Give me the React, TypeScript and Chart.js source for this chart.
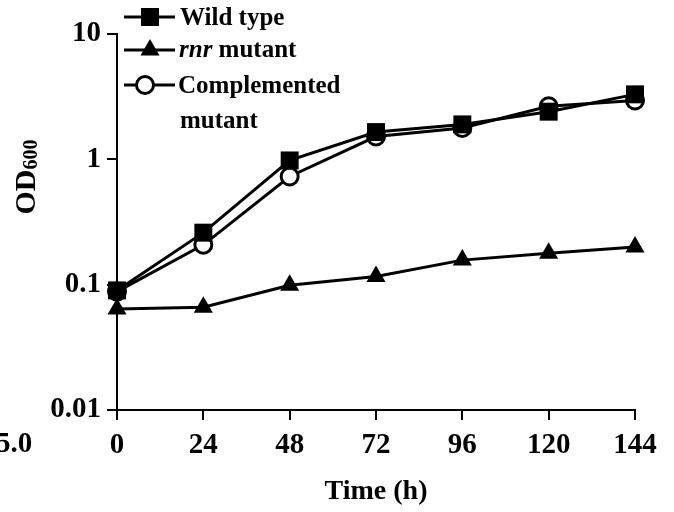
import React, { useEffect, useRef } from 'react';
import { Chart, registerables } from 'chart.js';

Chart.register(...registerables);

const timePoints = [0, 24, 48, 72, 96, 120, 144];
const wildType = [0.09, 0.26, 0.98, 1.65, 1.9, 2.4, 3.3];
const rnrMutant = [0.064, 0.066, 0.099, 0.116, 0.157, 0.178, 0.2];
const complemented = [0.088, 0.208, 0.73, 1.52, 1.78, 2.65, 2.95];
const xTicks = [0, 24, 48, 72, 96, 120, 144];
const yTicks = [0.01, 0.1, 1, 10];
const yTickLabels = ['0.01', '0.1', '1', '10'];
const seriesNames = ['Wild type', 'rnr mutant', 'Complemented mutant'];

const FONT = '"Liberation Serif", "Times New Roman", serif';

function drawMarker(ctx: CanvasRenderingContext2D, kind: string, x: number, y: number) {
  ctx.save();
  ctx.lineWidth = 3;
  ctx.strokeStyle = '#000';
  ctx.fillStyle = '#000';
  if (kind === 'rect') {
    ctx.fillRect(x - 9, y - 9, 18, 18);
  } else if (kind === 'triangle') {
    const r = 11;
    ctx.beginPath();
    ctx.moveTo(x, y - r);
    ctx.lineTo(x + r * 0.866, y + r * 0.5);
    ctx.lineTo(x - r * 0.866, y + r * 0.5);
    ctx.closePath();
    ctx.fill();
  } else {
    ctx.fillStyle = '#fff';
    ctx.beginPath();
    ctx.arc(x, y, 8.5, 0, Math.PI * 2);
    ctx.fill();
    ctx.stroke();
  }
  ctx.restore();
}

const decorPlugin = {
  id: 'decor',
  afterDraw(chart: any) {
    const ctx: CanvasRenderingContext2D = chart.ctx;
    ctx.save();
    ctx.fillStyle = '#000';
    ctx.strokeStyle = '#000';
    // legend
    const legend = [
      { kind: 'rect', y: 17, mx: 150 },
      { kind: 'triangle', y: 50, mx: 150 },
      { kind: 'circle', y: 85, mx: 145 },
    ];
    legend.forEach((it) => {
      ctx.lineWidth = 3;
      ctx.beginPath();
      ctx.moveTo(124, it.y);
      ctx.lineTo(175, it.y);
      ctx.stroke();
      drawMarker(ctx, it.kind, it.mx, it.y);
    });
    ctx.textBaseline = 'middle';
    ctx.textAlign = 'left';
    ctx.font = `bold 25px ${FONT}`;
    ctx.fillText(seriesNames[0], 180, 19);
    ctx.font = `italic bold 25px ${FONT}`;
    ctx.fillText('rnr', 179, 51);
    const w = ctx.measureText('rnr').width;
    ctx.font = `bold 25px ${FONT}`;
    ctx.fillText(' mutant', 179 + w, 51);
    ctx.fillText('Complemented', 178, 87);
    ctx.fillText('mutant', 180, 122);

    // x title
    ctx.textAlign = 'center';
    ctx.font = `bold 28px ${FONT}`;
    ctx.fillText('Time (h)', 376, 492);

    // y title with subscript
    ctx.save();
    ctx.translate(25, 177);
    ctx.rotate(-Math.PI / 2);
    ctx.textAlign = 'left';
    ctx.textBaseline = 'alphabetic';
    ctx.font = `bold 30px ${FONT}`;
    const wOD = ctx.measureText('OD').width;
    ctx.font = `bold 20px ${FONT}`;
    const wSub = ctx.measureText('600').width;
    const start = -(wOD + wSub) / 2;
    ctx.font = `bold 30px ${FONT}`;
    ctx.fillText('OD', start, 10);
    ctx.font = `bold 20px ${FONT}`;
    ctx.fillText('600', start + wOD, 12);
    ctx.restore();

    // cropped fragment from neighbouring panel
    ctx.textAlign = 'left';
    ctx.textBaseline = 'middle';
    ctx.font = `bold 29px ${FONT}`;
    ctx.fillText('5.0', -4, 445);
    ctx.restore();
  },
};

export default function App() {
  const ref = useRef<HTMLCanvasElement>(null);
  useEffect(() => {
    if (!ref.current) return;
    const mk = (vals: number[]) => timePoints.map((t, i) => ({ x: t, y: vals[i] }));
    const common = {
      borderColor: '#000',
      borderWidth: 3,
      pointBorderColor: '#000',
      clip: false as any,
      tension: 0,
    };
    const chart = new Chart(ref.current, {
      type: 'line',
      data: {
        datasets: [
          {
            ...common,
            label: seriesNames[0],
            data: mk(wildType),
            pointStyle: 'rect',
            pointRadius: 12.7,
            pointBorderWidth: 0,
            pointBackgroundColor: '#000',
          },
          {
            ...common,
            label: seriesNames[1],
            data: mk(rnrMutant),
            pointStyle: 'triangle',
            pointRadius: 11,
            pointBorderWidth: 0,
            pointBackgroundColor: '#000',
          },
          {
            ...common,
            label: seriesNames[2],
            data: mk(complemented),
            pointStyle: 'circle',
            pointRadius: 8.5,
            pointBorderWidth: 3,
            pointBackgroundColor: '#fff',
            backgroundColor: '#fff',
          },
        ],
      },
      options: {
        animation: false,
        responsive: false,
        devicePixelRatio: 1,
        layout: { padding: { top: 34, right: 39, left: 0, bottom: 0 } },
        plugins: { legend: { display: false }, tooltip: { enabled: false }, title: { display: false } },
        scales: {
          x: {
            type: 'linear',
            min: 0,
            max: 144,
            afterBuildTicks: (s: any) => {
              s.ticks = xTicks.map((v) => ({ value: v }));
            },
            afterFit: (s: any) => {
              s.height = 102;
            },
            grid: { drawOnChartArea: false, drawTicks: true, tickLength: 10, color: '#000', lineWidth: 2 },
            border: { display: true, color: '#000', width: 2 },
            ticks: {
              autoSkip: false,
              maxRotation: 0,
              padding: 8,
              color: '#000',
              font: { family: FONT, weight: 'bold', size: 29 },
            },
          },
          y: {
            type: 'logarithmic',
            min: 0.01,
            max: 10,
            afterBuildTicks: (s: any) => {
              s.ticks = yTicks.map((v) => ({ value: v, major: true }));
            },
            afterFit: (s: any) => {
              s.width = 117;
            },
            grid: { drawOnChartArea: false, drawTicks: true, tickLength: 10, color: '#000', lineWidth: 2 },
            border: { display: true, color: '#000', width: 2 },
            ticks: {
              autoSkip: false,
              padding: 6,
              color: '#000',
              font: { family: FONT, weight: 'bold', size: 29 },
              callback: (v: any) => {
                const i = yTicks.indexOf(Number(v));
                return i >= 0 ? yTickLabels[i] : '';
              },
            },
          },
        },
      },
      plugins: [decorPlugin],
    });
    return () => chart.destroy();
  }, []);
  return (
    <div style={{ position: 'absolute', left: 0, top: 0, width: 674, height: 512, background: '#fff' }}>
      <canvas ref={ref} width={674} height={512} style={{ width: 674, height: 512, display: 'block' }} />
    </div>
  );
}
